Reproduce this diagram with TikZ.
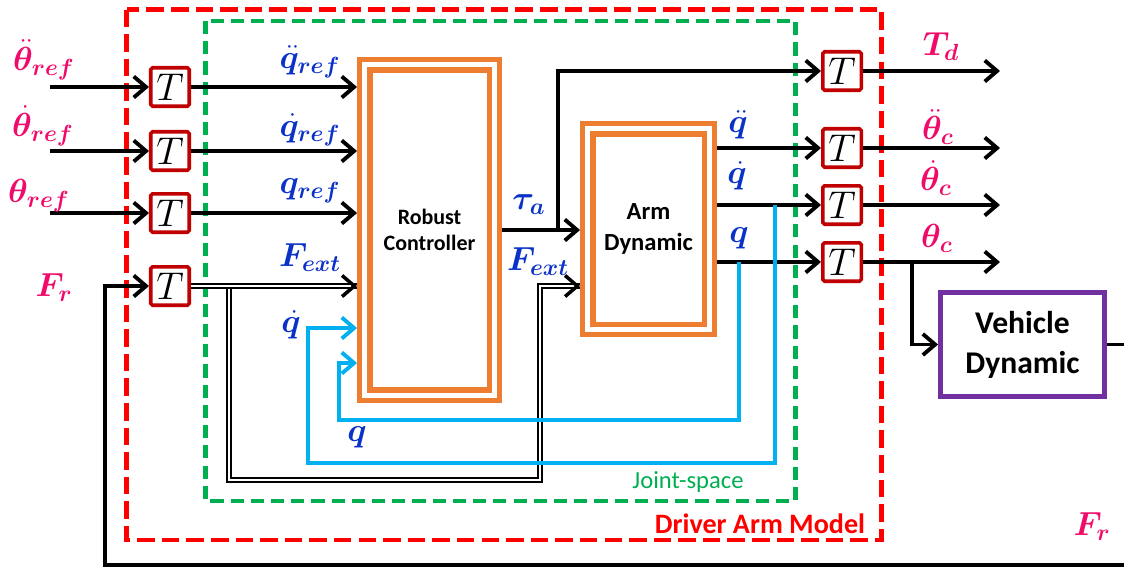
\RequirePackage{fix-cm}
\documentclass[tikz,border=0pt]{standalone}
\usepackage{fontspec}
\usepackage{bm}
\newfontfamily\calibri{Carlito}
\usetikzlibrary{arrows.meta,positioning,calc}
\definecolor{tred}{RGB}{192,0,0}
\definecolor{lpink}{RGB}{240,10,105}
\definecolor{qblue}{RGB}{10,50,200}
\definecolor{fcyan}{RGB}{0,176,240}
\definecolor{borange}{RGB}{237,125,49}
\definecolor{jgreen}{RGB}{0,176,80}
\definecolor{vpurple}{RGB}{112,48,160}
\newcommand{\lblsize}{\fontsize{19}{22}\selectfont}

\begin{document}
\begin{tikzpicture}[x=0.02cm,y=-0.02cm,
  arr/.style={line width=2.2pt,-{Straight Barb[length=7pt,width=12pt]}},
  farr/.style={draw=fcyan,line width=2.2pt,-{Straight Barb[length=7pt,width=12pt]}},
  dbl/.style={double,line width=0.8pt,double distance=1.4pt},
  tbox/.style={draw=tred,line width=2pt,fill=white,minimum size=0.77cm,inner sep=0,rounded corners=1pt,font=\fontsize{22}{24}\selectfont},
  obox/.style={draw=borange,line width=3pt,double=white,double distance=2.8pt,inner sep=0,outer sep=4.4pt,align=center},
  pk/.style={text=lpink,font=\lblsize,inner sep=0},
  bl/.style={text=qblue,font=\lblsize,inner sep=0}]
\useasboundingbox (0,0) rectangle (1124,568);
\draw[red,line width=2.8pt,dash pattern=on 10pt off 4pt] (126.5,9.5) rectangle (881.5,540);
\draw[jgreen,line width=2.3pt,dash pattern=on 7.5pt off 4pt] (205.5,21) rectangle (795.5,501);
\node[text=jgreen,font=\calibri\fontsize{14}{16}\selectfont] (js) at (688,482) {Joint-space};
\node[text=red,font=\calibri\bfseries\fontsize{16}{18}\selectfont] (dam) at (760,524) {Driver Arm Model};

\node[tbox] (t1) at (170,87) {$T$};
\node[tbox] (t2) at (170,151) {$T$};
\node[tbox] (t3) at (170,213) {$T$};
\node[tbox] (t4) at (170,286) {$T$};
\node[tbox] (u1) at (842,71) {$T$};
\node[tbox] (u2) at (842,148) {$T$};
\node[tbox] (u3) at (842,205) {$T$};
\node[tbox] (u4) at (842,262) {$T$};
\node[obox,minimum width=2.59cm,minimum height=6.61cm,font=\calibri\bfseries\fontsize{12.5}{15}\selectfont] (rc) at (429.5,230) {Robust\\Controller};
\node[obox,minimum width=2.43cm,minimum height=4.01cm,font=\calibri\bfseries\fontsize{14}{18}\selectfont] (ad) at (648.5,229) {Arm\\Dynamic};
\node[draw=vpurple,line width=2.8pt,minimum width=3.28cm,minimum height=2.08cm,inner sep=0,align=center,font=\calibri\bfseries\fontsize{18}{22.7}\selectfont] (vd) at (1022.5,344.5) {Vehicle\\Dynamic};

\coordinate (i1) at (50,87);
\coordinate (i2) at (50,151);
\coordinate (i3) at (50,213);
\coordinate (o1) at (1000,71);
\coordinate (o2) at (1000,148);
\coordinate (o3) at (1000,205);
\coordinate (o4) at (1000,262);
\coordinate (fr) at (105,565);
\coordinate (cut1) at (1124,565);
\coordinate (cut2) at (1124,344.5);
\coordinate (fj) at (229,286);
\coordinate (fk) at (540,286);
\coordinate (ta) at (558,230);
\coordinate (tc) at (912,262);
\coordinate (c1) at (775,205);
\coordinate (c2) at (739,262);

\draw[arr] (i1) -- (t1);
\draw[arr] (i2) -- (t2);
\draw[arr] (i3) -- (t3);
\draw[arr] (cut1) -- (fr) |- (t4);
\draw[arr] (t1) -- (rc.west |- t1);
\draw[arr] (t2) -- (rc.west |- t2);
\draw[arr] (t3) -- (rc.west |- t3);
\draw[dbl] (fj) -- ++(0,194) -| (fk) -- (ad.west |- fk);
\draw[arr,line width=2pt] ($(ad.west |- fk)+(-1,0)$) -- (ad.west |- fk);
\draw[dbl] (t4) -- (rc.west |- t4);
\draw[arr,line width=2pt] ($(rc.west |- t4)+(-1,0)$) -- (rc.west |- t4);
\draw[arr] (rc.east |- ta) -- (ad.west |- ta);
\draw[arr] (ta) |- (u1);
\draw[arr] (ad.east |- u2) -- (u2);
\draw[arr] (ad.east |- u3) -- (u3);
\draw[arr] (ad.east |- u4) -- (u4);
\draw[farr] (c1) |- (308,463) |- (rc.west |- 0,328);
\draw[farr] (c2) |- (339,420) |- (rc.west |- 0,363);
\draw[arr] (u1) -- (o1);
\draw[arr] (u2) -- (o2);
\draw[arr] (u3) -- (o3);
\draw[arr] (u4) -- (o4);
\draw[arr] (tc) |- (vd);
\draw[line width=2.2pt] (vd) -- (cut2);

\node[pk] (l1) at (44,60) {$\bm{\ddot\theta_{ref}}$};
\node[pk] (l2) at (43,126) {$\bm{\dot\theta_{ref}}$};
\node[pk] (l3) at (39,196) {$\bm{\theta_{ref}}$};
\node[pk] (l4) at (54,288) {$\bm{F_r}$};
\node[pk] (l5) at (1092,527) {$\bm{F_r}$};
\node[pk] (l6) at (941,47) {$\bm{T_d}$};
\node[pk] (l7) at (938,127) {$\bm{\ddot\theta_c}$};
\node[pk] (l8) at (936,178) {$\bm{\dot\theta_c}$};
\node[pk] (l9) at (937,238) {$\bm{\theta_c}$};
\node[bl] (m1) at (310,62) {$\bm{\ddot q_{ref}}$};
\node[bl] (m2) at (310,130) {$\bm{\dot q_{ref}}$};
\node[bl] (m3) at (310,191) {$\bm{q_{ref}}$};
\node[bl] (m4) at (310,258) {$\bm{F_{ext}}$};
\node[bl] (m5) at (291,325) {$\bm{\dot q}$};
\node[bl] (m6) at (357,437) {$\bm{q}$};
\node[bl] (m7) at (529,205) {$\bm{\tau_a}$};
\node[bl] (m8) at (538,262) {$\bm{F_{ext}}$};
\node[bl] (m9) at (738,125) {$\bm{\ddot q}$};
\node[bl] (m10) at (737,176) {$\bm{\dot q}$};
\node[bl] (m11) at (739,238) {$\bm{q}$};
\end{tikzpicture}
\end{document}
